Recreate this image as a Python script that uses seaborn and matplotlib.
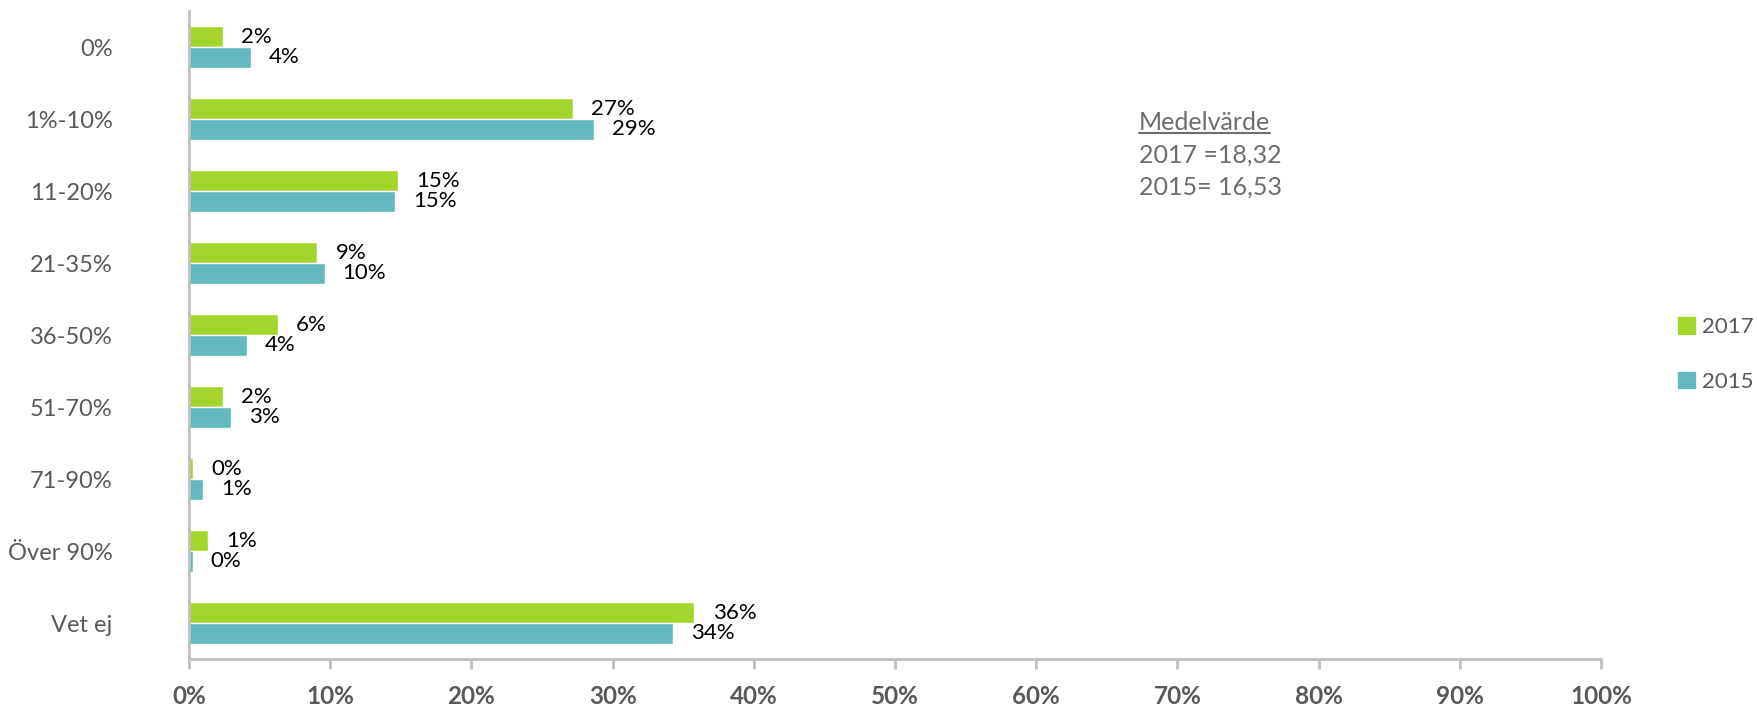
import matplotlib.pyplot as plt
import pandas as pd
import seaborn as sns
from matplotlib.lines import Line2D

categories = ['0%', '1%-10%', '11-20%', '21-35%', '36-50%', '51-70%', '71-90%', 'Över 90%', 'Vet ej']
values_2017 = [2.4, 27.2, 14.8, 9.1, 6.3, 2.4, 0.3, 1.35, 35.8]
values_2015 = [4.4, 28.7, 14.6, 9.6, 4.1, 3.0, 1.0, 0.25, 34.3]
years = ['2017', '2015']
colors = {'2017': '#a4d52c', '2015': '#64b9be'}
x_ticks = list(range(0, 101, 10))

rows = []
for cat, v17, v15 in zip(categories, values_2017, values_2015):
    rows.append([cat, '2017', v17])
    rows.append([cat, '2015', v15])
df = pd.DataFrame(rows, columns=['Kategori', 'År', 'Andel'])

sns.set_style('white')
plt.rcParams['font.family'] = ['Lato', 'DejaVu Sans']

fig = plt.figure(figsize=(17.58, 7.09), dpi=100)
ax = fig.add_axes([189 / 1758, 1 - 659 / 709, (1601 - 189) / 1758, (659 - 11) / 709])

sns.barplot(data=df, x='Andel', y='Kategori', hue='År', hue_order=years, order=categories,
            palette=colors, saturation=1, orient='h', width=0.58, edgecolor='white', linewidth=1,
            ax=ax, legend=False)

for cont in ax.containers:
    ax.bar_label(cont, labels=[f"{b.get_width():.0f}%" for b in cont], padding=13,
                 fontsize=16, color='black')

ax.set_xlim(0, 100)
ax.set_ylim(len(categories) - 0.5, -0.5)
ax.set_xticks(x_ticks)
ax.set_xticklabels([f"{t}%" for t in x_ticks], fontsize=17.5, fontweight='bold', color='#595959')
ax.set_yticks(range(len(categories)))
ax.set_yticklabels(categories, fontsize=17, color='#595959')
ax.set_yticks([i - 0.5 for i in range(len(categories) + 1)], minor=True)
ax.tick_params(axis='y', which='major', length=0, pad=55)
ax.tick_params(axis='y', which='minor', length=7, width=2, color='#bfbfbf', direction='out')
ax.tick_params(axis='x', which='major', length=7, width=2, color='#bfbfbf', direction='out', pad=12, bottom=True)
ax.set_xlabel('')
ax.set_ylabel('')
for s in ['top', 'right']:
    ax.spines[s].set_visible(False)
for s in ['left', 'bottom']:
    ax.spines[s].set_color('#bfbfbf')
    ax.spines[s].set_linewidth(2)
ax.grid(False)

# legend
handles = [plt.Rectangle((0, 0), 1, 1, color=colors[y]) for y in years]
leg = fig.legend(handles, years, loc='center left', bbox_to_anchor=(1678 / 1758, 0.5), frameon=False,
                 borderpad=0, borderaxespad=0, fontsize=16, handlelength=0.75, handleheight=0.75,
                 labelspacing=1.55, handletextpad=0.35)
for t in leg.get_texts():
    t.set_color('#595959')

# mean values note
tx = 1139 / 1758
t1 = fig.text(tx, 1 - 122 / 709, 'Medelvärde', fontsize=18, color='#6d6d6d', va='center')
fig.text(tx, 1 - 155 / 709, '2017 =18,32', fontsize=18, color='#6d6d6d', va='center')
fig.text(tx, 1 - 187 / 709, '2015= 16,53', fontsize=18, color='#6d6d6d', va='center')
fig.canvas.draw()
bb = t1.get_window_extent(fig.canvas.get_renderer())
fig.add_artist(Line2D([bb.x0, bb.x1], [bb.y0 + 1, bb.y0 + 1], color='#6d6d6d', linewidth=1.5,
                      transform=None))

fig.savefig('out.png', dpi=100)
